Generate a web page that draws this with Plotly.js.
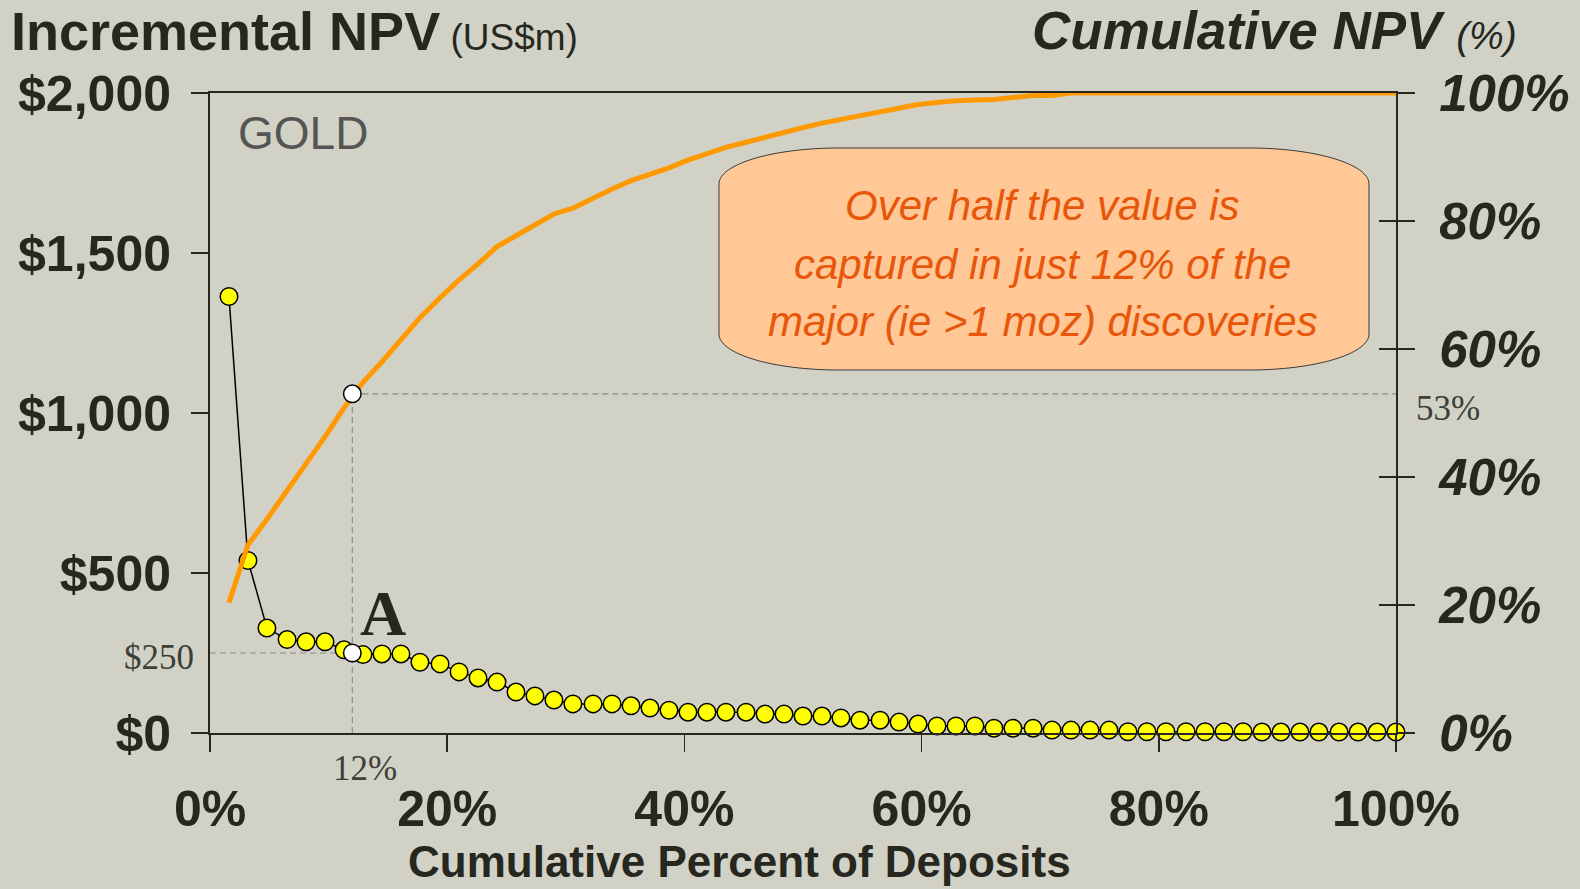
<!DOCTYPE html>
<html><head><meta charset="utf-8">
<script src="https://cdn.plot.ly/plotly-3.0.1.min.js"></script>
<style>html,body{margin:0;padding:0;background:#d1d1c6;} #chart{width:1580px;height:889px;}</style>
</head><body><div id="chart"></div>
<script>
// ---- Data ----
const depositPct = [1.6, 3.2, 4.8, 6.5, 8.1, 9.7, 11.3, 12.9, 14.5, 16.1,
  17.7, 19.4, 21.0, 22.6, 24.2, 25.8, 27.4, 29.0, 30.6, 32.3,
  33.9, 35.5, 37.1, 38.7, 40.3, 41.9, 43.5, 45.2, 46.8, 48.4,
  50.0, 51.6, 53.2, 54.8, 56.5, 58.1, 59.7, 61.3, 62.9, 64.5,
  66.1, 67.7, 69.4, 71.0, 72.6, 74.2, 75.8, 77.4, 79.0, 80.6,
  82.3, 83.9, 85.5, 87.1, 88.7, 90.3, 91.9, 93.5, 95.2, 96.8,
  98.4, 100.0];
const incrementalNPV = [1364, 539, 328, 292, 285, 285, 260, 245, 247, 247,
  221, 216, 191, 172, 159, 128, 116, 103, 91, 91,
  91, 85, 78, 71, 65, 65, 65, 65, 59, 59,
  53, 53, 47, 40, 40, 34, 28, 22, 22, 22,
  15, 15, 15, 9, 9, 9, 9, 4, 4, 4,
  4, 4, 4, 4, 3, 3, 3, 3, 3, 3,
  3, 3];
const cumulativeNPV = [20.4, 29.4, 33.4, 37.8, 42.1, 46.3, 50.8, 54.8, 58.0, 61.6,
  64.9, 68.0, 70.8, 73.3, 76.0, 77.7, 79.4, 81.1, 82.0, 83.6,
  85.0, 86.3, 87.2, 88.3, 89.5, 90.5, 91.5, 92.3, 93.1, 94.0,
  94.6, 95.3, 95.9, 96.5, 97.1, 97.7, 98.2, 98.5, 98.8, 98.9,
  99.0, 99.3, 99.6, 99.6, 100, 100, 100, 100, 100, 100,
  100, 100, 100, 100, 100, 100, 100, 100, 100, 100,
  100, 100];
const highlightPct = 12;      // % of deposits
const highlightNPV = 250;    // US$m
const highlightCum = 53;     // % cumulative NPV
const xTickVals = [0, 20, 40, 60, 80, 100];
const xTickText = ['0%', '20%', '40%', '60%', '80%', '100%'];
const yTickVals = [0, 500, 1000, 1500, 2000];
const yTickText = ['$0', '$500', '$1,000', '$1,500', '$2,000'];
const y2TickVals = [0, 20, 40, 60, 80, 100];
const y2TickText = ['0%', '20%', '40%', '60%', '80%', '100%'];
const yMax = 2000, y2Max = 100;

// ---- Style ----
const SANS = 'Liberation Sans, Arial, sans-serif';
const SERIF = 'Liberation Serif, Times New Roman, serif';
const INK = '#26271e';
const BG = '#d1d1c6';
const GUIDE = '#8c8c86';

const W = 1580, H = 889, M = {l: 210, r: 184, t: 93, b: 156};
const PW = W - M.l - M.r, PH = H - M.t - M.b;
const px = v => +((v - M.l) / PW).toFixed(5);
const py = v => +((H - M.b - v) / PH).toFixed(5);
function pill(L, R, T, B, rx, ry) {
  const k = 0.5523;
  return `M${px(L)},${py(T+ry)} C${px(L)},${py(T+ry-k*ry)} ${px(L+rx-k*rx)},${py(T)} ${px(L+rx)},${py(T)} ` +
    `L${px(R-rx)},${py(T)} C${px(R-rx+k*rx)},${py(T)} ${px(R)},${py(T+ry-k*ry)} ${px(R)},${py(T+ry)} ` +
    `L${px(R)},${py(B-ry)} C${px(R)},${py(B-ry+k*ry)} ${px(R-rx+k*rx)},${py(B)} ${px(R-rx)},${py(B)} ` +
    `L${px(L+rx)},${py(B)} C${px(L+rx-k*rx)},${py(B)} ${px(L)},${py(B-ry+k*ry)} ${px(L)},${py(B-ry)} Z`;
}

const guideLine = {color: GUIDE, width: 1.2, dash: '6px,4px'};
const traces = [
  // guides on primary axis
  {x: [0, highlightPct], y: [highlightNPV, highlightNPV], mode: 'lines', line: guideLine, hoverinfo: 'skip'},
  {x: [highlightPct, highlightPct], y: [0, highlightCum * yMax / y2Max], mode: 'lines', line: guideLine, hoverinfo: 'skip'},
  // incremental NPV
  {x: depositPct, y: incrementalNPV, mode: 'lines+markers', cliponaxis: false,
   line: {color: '#000000', width: 1.5},
   marker: {size: 17.5, color: '#ffff00', line: {color: '#000000', width: 1.5}}},
  {x: [highlightPct], y: [highlightNPV], mode: 'markers', cliponaxis: false,
   marker: {size: 17.5, color: '#ffffff', line: {color: '#000000', width: 1.5}}},
  // secondary axis
  {x: [highlightPct, 100], y: [highlightCum, highlightCum], yaxis: 'y2', mode: 'lines', line: guideLine, hoverinfo: 'skip'},
  {x: depositPct, y: cumulativeNPV, yaxis: 'y2', mode: 'lines', cliponaxis: false,
   line: {color: '#ff9900', width: 5}},
  {x: [highlightPct], y: [highlightCum], yaxis: 'y2', mode: 'markers', cliponaxis: false,
   marker: {size: 17.5, color: '#ffffff', line: {color: '#000000', width: 1.5}}},
  {x: [], y: [], yaxis: 'y3', mode: 'markers'}
];

const boxText = ['Over half the value is', 'captured in just 12% of the', 'major (ie >1 moz) discoveries'];
const boxLineY = [206, 264, 322];

const annotations = [
  {xref: 'paper', yref: 'paper', x: px(9), y: py(31), xanchor: 'left', yanchor: 'middle', showarrow: false,
   text: "<b>Incremental NPV</b><span style='font-size:37px'> (US$m)</span>",
   font: {family: SANS, size: 54, color: INK}},
  {xref: 'paper', yref: 'paper', x: px(1519), y: py(31), xanchor: 'right', yanchor: 'middle', showarrow: false,
   text: "<b><i>Cumulative NPV</i></b> <i><span style='font-size:39px'>(%)</span></i>",
   font: {family: SANS, size: 53, color: INK}},
  {xref: 'paper', yref: 'paper', x: px(236), y: py(133), xanchor: 'left', yanchor: 'middle', showarrow: false,
   text: 'GOLD', font: {family: SANS, size: 46, color: '#555555'}},
  {xref: 'paper', yref: 'paper', x: px(739), y: py(862), xanchor: 'center', yanchor: 'middle', showarrow: false,
   text: '<b>Cumulative Percent of Deposits</b>', font: {family: SANS, size: 44, color: INK}},
  {x: 14.6, y: 375, xanchor: 'center', yanchor: 'middle', showarrow: false,
   text: '<b>A</b>', font: {family: SERIF, size: 64, color: INK}},
  {x: 0, y: highlightNPV, xanchor: 'right', yanchor: 'middle', xshift: -14, yshift: -4, showarrow: false,
   text: '$250', font: {family: SERIF, size: 35, color: '#3e3e38'}},
  {x: highlightPct, y: 0, xanchor: 'center', yanchor: 'top', xshift: 13, yshift: -14, showarrow: false,
   text: '12%', font: {family: SERIF, size: 35, color: '#3e3e38'}},
  {x: 100, y: highlightCum, yref: 'y2', xanchor: 'left', yanchor: 'middle', xshift: 18, yshift: -15, showarrow: false,
   text: '53%', font: {family: SERIF, size: 35, color: '#3e3e38'}}
];
boxText.forEach((t, i) => annotations.push({
  xref: 'paper', yref: 'paper', x: px(1043), y: py(boxLineY[i]), xanchor: 'center', yanchor: 'middle',
  showarrow: false, text: '<i>' + t + '</i>', font: {family: SANS, size: 42, color: '#e8560a'}
}));

const layout = {
  width: W, height: H, margin: M,
  paper_bgcolor: BG, plot_bgcolor: BG, showlegend: false, hovermode: false,
  font: {family: SANS, color: INK},
  xaxis: {range: [0, 100], tickvals: xTickVals, ticktext: xTickText,
    ticks: 'outside', ticklen: 17, tickwidth: 1.5, tickcolor: INK,
    showline: true, linecolor: INK, linewidth: 2, mirror: true,
    showgrid: false, zeroline: false, ticklabelstandoff: 14,
    tickfont: {family: SANS, size: 50, color: INK, weight: 'bold'}},
  yaxis: {range: [0, yMax], tickvals: yTickVals, ticktext: yTickText,
    ticks: 'outside', ticklen: 17, tickwidth: 1.5, tickcolor: INK,
    showline: true, linecolor: INK, linewidth: 2,
    showgrid: false, zeroline: false, ticklabelstandoff: 10,
    tickfont: {family: SANS, size: 50, color: INK, weight: 'bold'}},
  yaxis2: {range: [0, y2Max], overlaying: 'y', side: 'right', tickvals: y2TickVals, ticktext: y2TickText,
    ticks: 'outside', ticklen: 17, tickwidth: 1.5, tickcolor: INK,
    showline: true, linecolor: INK, linewidth: 2,
    showgrid: false, zeroline: false, ticklabelstandoff: 14,
    tickfont: {family: SANS, size: 51, color: INK, weight: 'bold', style: 'italic'}},
  yaxis3: {range: [0, y2Max], overlaying: 'y', side: 'right', tickvals: y2TickVals,
    ticks: 'inside', ticklen: 17, tickwidth: 1.5, tickcolor: INK,
    showline: false, showticklabels: false, showgrid: false, zeroline: false},
  shapes: [
    {type: 'path', xref: 'paper', yref: 'paper', path: pill(719, 1369, 148, 370, 120, 36),
     fillcolor: '#ffc896', line: {color: '#3a3a33', width: 1}, layer: 'above'}
  ],
  annotations: annotations
};

Plotly.newPlot('chart', traces, layout, {displayModeBar: false, staticPlot: true});
</script>
</body></html>
